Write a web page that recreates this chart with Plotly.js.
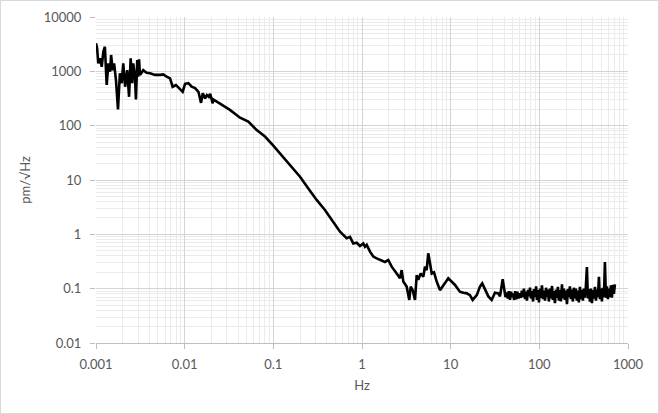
<!DOCTYPE html>
<html>
<head>
<meta charset="utf-8">
<script src="https://cdn.plot.ly/plotly-3.0.1.min.js"></script>
<style>
  html, body { margin: 0; padding: 0; background: #fff; }
  #wrap { position: relative; width: 659px; height: 414px; }
  #plot { width: 659px; height: 414px; }
  #frame { position: absolute; left: 0; top: 0; width: 657px; height: 412px; border: 1px solid #d9d9d9; pointer-events: none; }
</style>
</head>
<body>
<div id="wrap"><div id="plot"></div><div id="frame"></div></div>
<script>
// Low-frequency noisy segment
const lowFreq = [0.001,0.00103,0.00106,0.00111,0.00116,0.00121,0.00126,0.00132,0.00138,0.00144,
  0.00148,0.00154,0.0016,0.00168,0.00177,0.00186,0.00195,0.00203,0.00213,0.00225,
  0.00236,0.00246,0.00256,0.00263,0.00275,0.00282,0.00292,0.00299,0.00306,0.00313,
  0.00341,0.00372,0.00406,0.00464,0.00529,0.00574,0.00627,0.00684,0.00732,0.00798,
  0.00886,0.00949,0.0101,0.011,0.012,0.0131,0.0143,0.0153,0.016,0.017,
  0.0178,0.0187,0.0194,0.0207,0.021];
const lowAmp = [3300,2650,1400,1740,1215,2300,2840,560,1400,985,
  2000,1050,1400,690,200,920,605,1400,520,1050,
  340,1740,605,1400,795,305,1620,795,1660,860,
  1050,945,920,860,860,880,795,740,520,560,
  470,420,590,605,520,490,420,263,395,318,
  365,340,385,258,305];

// Mid segment (roll-off and resonances)
const midFreq = [0.025,0.0324,0.0421,0.0522,0.0649,0.0805,0.0999,0.1295,0.161,0.2,
  0.248,0.308,0.382,0.474,0.565,0.672,0.732,0.797,0.871,0.949,
  1.034,1.081,1.13,1.231,1.341,1.464,1.596,1.817,1.98,2.162,
  2.462,2.682,2.803,2.922,3.19,3.415,3.54,3.73,3.96,4.14,
  4.31,4.59,4.91,5.13,5.36,5.59,5.85,6.11,6.49,6.96,
  7.58,9.4,11.2,12.7,13.9,15.2,16.5,17.7,19.7,21.4,
  22.7,24.4,26.6,29.0,31.6,34.4,36.0,38.6,40.2,41.5,
  42.8,44.0,45.3,46.7,48.0,49.3,50.5,52.0,53.5,55.0,
  56.5,58.0];
const midAmp = [258,195,140,119,83,63,43,26.3,17,11.5,
  7.0,4.3,2.8,1.64,1.12,0.85,0.9,0.68,0.7,0.61,
  0.68,0.59,0.64,0.48,0.39,0.36,0.337,0.31,0.337,0.254,
  0.19,0.155,0.22,0.135,0.109,0.062,0.109,0.094,0.062,0.178,
  0.145,0.19,0.166,0.254,0.22,0.447,0.293,0.19,0.2,0.135,
  0.094,0.155,0.117,0.088,0.084,0.082,0.076,0.062,0.076,0.109,
  0.125,0.1,0.072,0.062,0.084,0.082,0.072,0.149,0.094,0.07,
  0.085,0.066,0.09,0.062,0.088,0.07,0.082,0.062,0.09,0.064,
  0.088,0.066];

// High-frequency noise floor
const highFreq = [60,62,63.5,65,67,69,70.5,72.5,74.5,76.5,
  78.5,80.5,82.5,85,87,89.5,92,94,96.5,99,
  102,104.5,107,110,113,116,119,122,125,128,
  132,135,139,142,146,150,154,158,162,166,
  171,175,180,184,189,194,199,205,210,215,
  221,227,233,239,245,252,258,265,272,279,
  287,294,302,310,318,327,335,344,353,362,
  372,382,392,402,413,424,435,446,458,470,
  482,495,508,521,535,549,564,578,594,609,
  625,642,658,676,693,712];
const highAmp = [0.082,0.068,0.092,0.07,0.1,0.064,0.088,0.06,0.095,0.072,
  0.105,0.066,0.09,0.058,0.098,0.07,0.11,0.062,0.094,0.056,
  0.1,0.068,0.115,0.064,0.092,0.06,0.104,0.07,0.096,0.058,
  0.1,0.066,0.112,0.062,0.09,0.054,0.096,0.068,0.108,0.06,
  0.094,0.058,0.12,0.066,0.1,0.062,0.092,0.052,0.098,0.07,
  0.11,0.064,0.096,0.058,0.104,0.066,0.1,0.06,0.092,0.056,
  0.108,0.064,0.095,0.06,0.1,0.068,0.112,0.25,0.066,0.098,
  0.058,0.1,0.054,0.094,0.066,0.108,0.06,0.096,0.07,0.166,
  0.064,0.1,0.058,0.104,0.07,0.31,0.068,0.11,0.064,0.1,
  0.07,0.115,0.068,0.118,0.08,0.12];

const xTickVals = [0.001,0.01,0.1,1,10,100,1000];
const xTickText = ['0.001','0.01','0.1','1','10','100','1000'];
const yTickVals = [0.01,0.1,1,10,100,1000,10000];
const yTickText = ['0.01','0.1','1','10','100','1000','10000'];

const freq = lowFreq.concat(midFreq, highFreq);
const amp = lowAmp.concat(midAmp, highAmp);

const trace = {
  x: freq, y: amp, type: 'scatter', mode: 'lines',
  line: { color: '#000000', width: 2.6 }
};

const fontFamily = 'Lato, "Open Sans", sans-serif';
const tickFont = { family: fontFamily, size: 13, color: '#595959' };

const layout = {
  width: 659, height: 414,
  margin: { l: 96, r: 31, t: 17, b: 71 },
  paper_bgcolor: '#ffffff', plot_bgcolor: '#ffffff',
  showlegend: false,
  xaxis: {
    type: 'log', range: [-3, 3],
    tickvals: xTickVals, ticktext: xTickText,
    tickfont: tickFont,
    showgrid: true, gridcolor: '#d4d4d4', gridwidth: 1,
    minor: { dtick: 'D1', showgrid: true, gridcolor: '#ebebeb', gridwidth: 1, ticks: '' },
    showline: true, linecolor: '#bfbfbf', linewidth: 1,
    ticks: 'outside', ticklen: 5, tickcolor: '#bfbfbf',
    ticklabelstandoff: 4,
    zeroline: false,
    title: { text: 'Hz', font: { family: fontFamily, size: 13, color: '#595959' }, standoff: 10 }
  },
  yaxis: {
    type: 'log', range: [-2, 4],
    tickvals: yTickVals, ticktext: yTickText,
    tickfont: tickFont,
    showgrid: true, gridcolor: '#d4d4d4', gridwidth: 1,
    minor: { dtick: 'D1', showgrid: true, gridcolor: '#ebebeb', gridwidth: 1, ticks: '' },
    showline: false,
    ticks: 'outside', ticklen: 5, tickcolor: '#bfbfbf',
    ticklabelstandoff: 6,
    zeroline: false,
    title: { text: 'pm/√Hz', font: { family: fontFamily, size: 13, color: '#595959' }, standoff: 10 }
  }
};

Plotly.newPlot('plot', [trace], layout, { staticPlot: true, displayModeBar: false });
</script>
</body>
</html>
